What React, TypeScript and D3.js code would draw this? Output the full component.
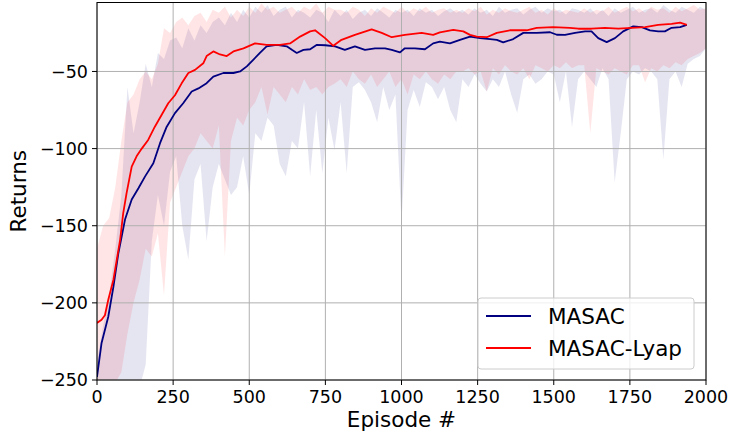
import React from 'react';
import * as d3 from 'd3';

// ---- data ----
const xTicks = [0, 250, 500, 750, 1000, 1250, 1500, 1750, 2000];
const yTicks = [-250, -200, -150, -100, -50];

const masacEp = [0, 15, 37, 54, 70, 92, 114, 136, 158, 185, 207, 229, 256, 283, 311, 333, 360, 382, 415, 448, 470, 492, 513, 535, 557, 590, 623, 640, 656, 678, 700, 721, 750, 782, 814, 847, 880, 913, 946, 968, 995, 1011, 1044, 1077, 1104, 1126, 1159, 1192, 1225, 1258, 1291, 1313, 1334, 1367, 1400, 1444, 1488, 1510, 1537, 1570, 1603, 1624, 1646, 1674, 1701, 1728, 1761, 1789, 1816, 1843, 1865, 1887, 1915, 1937];
const masacVal = [-248, -226, -209, -189.5, -168, -146, -133, -125.7, -118, -109.5, -96.5, -85.8, -77, -70.6, -63, -61, -57.6, -53.3, -51, -51, -50, -46.7, -42.5, -38, -33.7, -32.8, -33.7, -36, -38, -36, -35.6, -32.8, -33, -33.7, -36, -33.7, -36, -35, -35, -36, -37.6, -35, -35, -35.6, -31.8, -30.7, -31.8, -29.5, -27.4, -28.4, -29, -29.5, -31.2, -29, -25, -25, -24.6, -26.2, -26.3, -25, -24, -24, -28.4, -31, -28.4, -24, -20.8, -21.3, -23.4, -24, -24, -21.7, -21.3, -19.8];

const lyapEp = [0, 15, 26, 37, 54, 65, 76, 86, 97, 114, 130, 147, 168, 190, 212, 234, 256, 278, 300, 322, 349, 360, 382, 404, 426, 448, 481, 519, 557, 601, 634, 667, 700, 716, 749, 776, 803, 847, 902, 935, 968, 1011, 1066, 1104, 1126, 1170, 1203, 1225, 1247, 1280, 1313, 1356, 1411, 1444, 1498, 1553, 1581, 1624, 1668, 1712, 1756, 1800, 1843, 1887, 1915, 1937];
const lyapVal = [-213, -211, -208, -198, -185, -172, -159, -142, -129, -111.7, -105, -100, -94.4, -85.8, -78.2, -70.6, -65.4, -57.7, -51, -49, -44.7, -40, -37, -39, -40, -37, -35, -31.8, -32.8, -32.8, -31.8, -27.4, -24, -23.3, -28.4, -33.4, -29.5, -26.3, -22.7, -25, -27.8, -26.3, -25, -26.3, -24.7, -23, -24, -26.3, -27.4, -27.8, -25, -23.3, -23.3, -21.7, -21.3, -21.7, -22.3, -22.3, -21.7, -22.3, -21.7, -21.3, -19.8, -19.1, -18.3, -19.8];

// band samples every 20 episodes (0..2000)
const bandEp = d3.range(0, 2001, 20);
const masacUpper = [
  -238, -215, -195, -165, -130, -60, -90, -70, -45, -60, -38, -42, -30, -28, -35, -22, -30, -20, -25, -18,
  -15, -20, -12, -18, -10, -15, -8, -12, -7, -14, -10, -8, -15, -10, -12, -15, -10, -12, -18, -10,
  -14, -10, -16, -12, -10, -14, -9, -12, -15, -10, -12, -10, -14, -9, -12, -10, -14, -11, -9, -12,
  -10, -13, -9, -12, -10, -14, -8, -12, -10, -9, -13, -10, -8, -12, -9, -11, -10, -13, -9, -10,
  -12, -9, -13, -10, -14, -9, -12, -10, -8, -12, -10, -9, -12, -7, -10, -12, -8, -10, -12, -8, -10,
];
const masacLower = [
  -260, -260, -260, -260, -260, -260, -260, -255, -240, -160, -130, -150, -115, -105, -150, -172, -120, -110, -160, -125,
  -110, -120, -130, -125, -105, -130, -90, -95, -80, -85, -110, -118, -95, -100, -70, -118, -75, -116, -80, -101,
  -70, -116, -60, -57, -62, -70, -83, -60, -75, -65, -148, -75, -62, -73, -57, -60, -68, -60, -75, -83,
  -55, -60, -52, -58, -63, -55, -60, -50, -65, -77, -55, -52, -58, -55, -50, -52, -70, -50, -86, -55,
  -50, -55, -60, -48, -55, -122, -90, -55, -50, -52, -48, -50, -55, -107, -55, -50, -60, -45, -42, -40, -35,
];
const lyapUpper = [
  -165, -150, -145, -125, -95, -70, -65, -55, -50, -55, -45, -22, -25, -18, -15, -20, -14, -12, -18, -10,
  -12, -8, -15, -10, -14, -8, -12, -6, -10, -8, -12, -10, -8, -12, -8, -10, -6, -12, -8, -10,
  -10, -12, -8, -10, -14, -9, -12, -8, -10, -12, -8, -12, -9, -11, -8, -12, -10, -9, -12, -10,
  -12, -9, -11, -8, -13, -10, -12, -9, -11, -12, -10, -8, -12, -10, -13, -9, -12, -10, -11, -12,
  -9, -12, -10, -11, -8, -12, -10, -8, -11, -9, -12, -8, -10, -9, -12, -8, -11, -9, -7, -10, -9,
];
const lyapLower = [
  -255, -255, -255, -252, -245, -220, -200, -185, -165, -170, -155, -195, -135, -125, -115, -105, -100, -90, -95, -100,
  -85, -170, -95, -80, -85, -75, -70, -60, -78, -60, -65, -70, -60, -65, -55, -62, -60, -65, -60, -58,
  -55, -60, -50, -55, -58, -52, -60, -55, -50, -60, -55, -65, -52, -55, -50, -55, -58, -52, -55, -50,
  -50, -48, -52, -50, -63, -48, -52, -46, -50, -52, -48, -55, -46, -48, -50, -46, -48, -44, -48, -46,
  -46, -90, -48, -50, -52, -48, -50, -52, -46, -46, -57, -48, -50, -46, -48, -44, -46, -42, -40, -38, -35,
];

const seriesNames = ['MASAC', 'MASAC-Lyap'];
const seriesColors = ['#000080', '#ff0000'];

const FONT = 'DejaVu Sans, sans-serif';

export default function App() {
  const W = 730, H = 438;
  const L = 97, R = 706, T = 2.5, B = 380;
  const x = d3.scaleLinear().domain([0, 2000]).range([L, R]);
  const y = d3.scaleLinear().domain([-250, -5.3]).range([B, T]);

  const band = (lo: number[], hi: number[]) =>
    d3.area<number>()
      .x((_, i) => x(bandEp[i]))
      .y0((_, i) => y(lo[i]))
      .y1((_, i) => y(hi[i]))(bandEp) || '';
  const line = (ep: number[], v: number[]) =>
    d3.line<number>()
      .x((_, i) => x(ep[i]))
      .y((_, i) => y(v[i]))(ep) || '';

  return (
    <svg width={W} height={H} style={{ position: 'absolute', left: 0, top: 0, display: 'block', background: '#fff' }} fontFamily={FONT}>
      <defs>
        <clipPath id="plot">
          <rect x={L} y={T} width={R - L} height={B - T} />
        </clipPath>
      </defs>
      <g clipPath="url(#plot)">
        <path d={band(masacLower, masacUpper)} fill={seriesColors[0]} fillOpacity={0.1} />
        <path d={band(lyapLower, lyapUpper)} fill={seriesColors[1]} fillOpacity={0.1} />
      </g>
      {/* grid */}
      <g stroke="#b0b0b0" strokeWidth={1}>
        {xTicks.map(t => <line key={'gx' + t} x1={x(t)} x2={x(t)} y1={T} y2={B} />)}
        {yTicks.map(t => <line key={'gy' + t} x1={L} x2={R} y1={y(t)} y2={y(t)} />)}
      </g>
      <g clipPath="url(#plot)" fill="none" strokeWidth={1.8} strokeLinejoin="round">
        <path d={line(masacEp, masacVal)} stroke={seriesColors[0]} />
        <path d={line(lyapEp, lyapVal)} stroke={seriesColors[1]} />
      </g>
      {/* spines */}
      <rect x={L} y={T} width={R - L} height={B - T} fill="none" stroke="#000" strokeWidth={1} />
      {/* ticks */}
      <g stroke="#000" strokeWidth={1}>
        {xTicks.map(t => <line key={'tx' + t} x1={x(t)} x2={x(t)} y1={B} y2={B + 5} />)}
        {yTicks.map(t => <line key={'ty' + t} x1={L - 5} x2={L} y1={y(t)} y2={y(t)} />)}
      </g>
      <g fontSize={17.5} fill="#000">
        {xTicks.map(t => (
          <text key={'lx' + t} x={x(t)} y={403} textAnchor="middle">{String(t)}</text>
        ))}
        {yTicks.map(t => (
          <text key={'ly' + t} x={L - 9} y={y(t) + 6.3} textAnchor="end">{'\u2212' + Math.abs(t)}</text>
        ))}
      </g>
      <text x={(L + R) / 2} y={427} textAnchor="middle" fontSize={21.5}>Episode #</text>
      <text transform={`translate(26,${(T + B) / 2}) rotate(-90)`} textAnchor="middle" fontSize={21.5}>Returns</text>
      {/* legend */}
      <g>
        <rect x={478} y={298} width={216} height={71} rx={3} fill="#fff" fillOpacity={0.8} stroke="#cccccc" strokeWidth={1} />
        {seriesNames.map((n, i) => (
          <g key={n}>
            <line x1={486} x2={531} y1={316 + i * 32} y2={316 + i * 32} stroke={seriesColors[i]} strokeWidth={1.8} />
            <text x={548} y={324 + i * 32} fontSize={21.5}>{n}</text>
          </g>
        ))}
      </g>
    </svg>
  );
}
